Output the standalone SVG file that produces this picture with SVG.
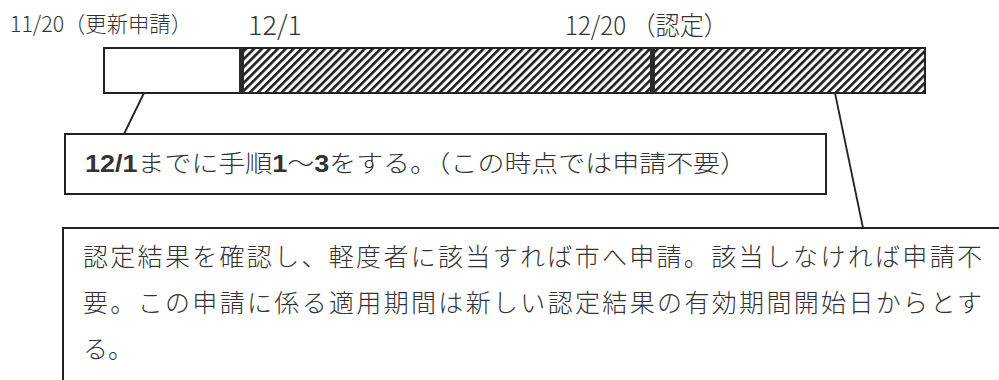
<svg xmlns="http://www.w3.org/2000/svg" width="999" height="380" viewBox="0 0 999 380">
<defs>
<pattern id="hatch" patternUnits="userSpaceOnUse" width="5.6" height="10" patternTransform="rotate(45)">
<rect x="0" y="0" width="2.6" height="10" fill="#1e1e1e"/>
</pattern>
<style>
.lbl{font-family:"Noto Sans CJK JP","Noto Sans",sans-serif;fill:#333;font-weight:300}
.box{fill:#fff;stroke:#222;stroke-width:2}
.con{stroke:#222;stroke-width:1.8;fill:none}
.b{font-weight:bold;font-family:"Liberation Sans","Noto Sans",sans-serif}
</style>
</defs>
<rect width="999" height="380" fill="#fff"/>
<g id="labels">
<text class="lbl" x="10" y="32" font-size="22" textLength="182" lengthAdjust="spacingAndGlyphs">11/20（更新申請）</text>
<text class="lbl" x="248" y="35" font-size="27" textLength="54" lengthAdjust="spacingAndGlyphs">12/1</text>
<text class="lbl" x="565" y="35" font-size="26" textLength="163" lengthAdjust="spacingAndGlyphs">12/20 （認定）</text>
</g>
<g id="timeline">
<rect x="104" y="48" width="137" height="45" fill="#fff" stroke="#222" stroke-width="2"/>
<rect x="241" y="48" width="684" height="45" fill="url(#hatch)" stroke="#222" stroke-width="2"/>
<rect x="239" y="48" width="5" height="45" fill="#2a2a2a"/>
<rect x="650" y="48" width="5" height="45" fill="#2a2a2a"/>
</g>
<g id="connectors">
<line class="con" x1="144" y1="93" x2="124" y2="134"/>
<line class="con" x1="835" y1="93" x2="863" y2="228"/>
</g>
<g id="note1">
<rect class="box" x="65" y="134" width="761" height="60"/>
<text class="lbl" x="85" y="172" font-size="24" textLength="662" lengthAdjust="spacingAndGlyphs"><tspan class="b">12/1</tspan>までに手順<tspan class="b">1</tspan>～<tspan class="b">3</tspan>をする。（この時点では申請不要）</text>
</g>
<g id="note2">
<rect class="box" x="63" y="228" width="960" height="200"/>
<text class="lbl" x="83" y="266" font-size="25" textLength="899" lengthAdjust="spacing">認定結果を確認し、軽度者に該当すれば市へ申請。該当しなければ申請不</text>
<text class="lbl" x="83" y="312" font-size="25" textLength="899" lengthAdjust="spacing">要。この申請に係る適用期間は新しい認定結果の有効期間開始日からとす</text>
<text class="lbl" x="83" y="358" font-size="25">る。</text>
</g>
</svg>
